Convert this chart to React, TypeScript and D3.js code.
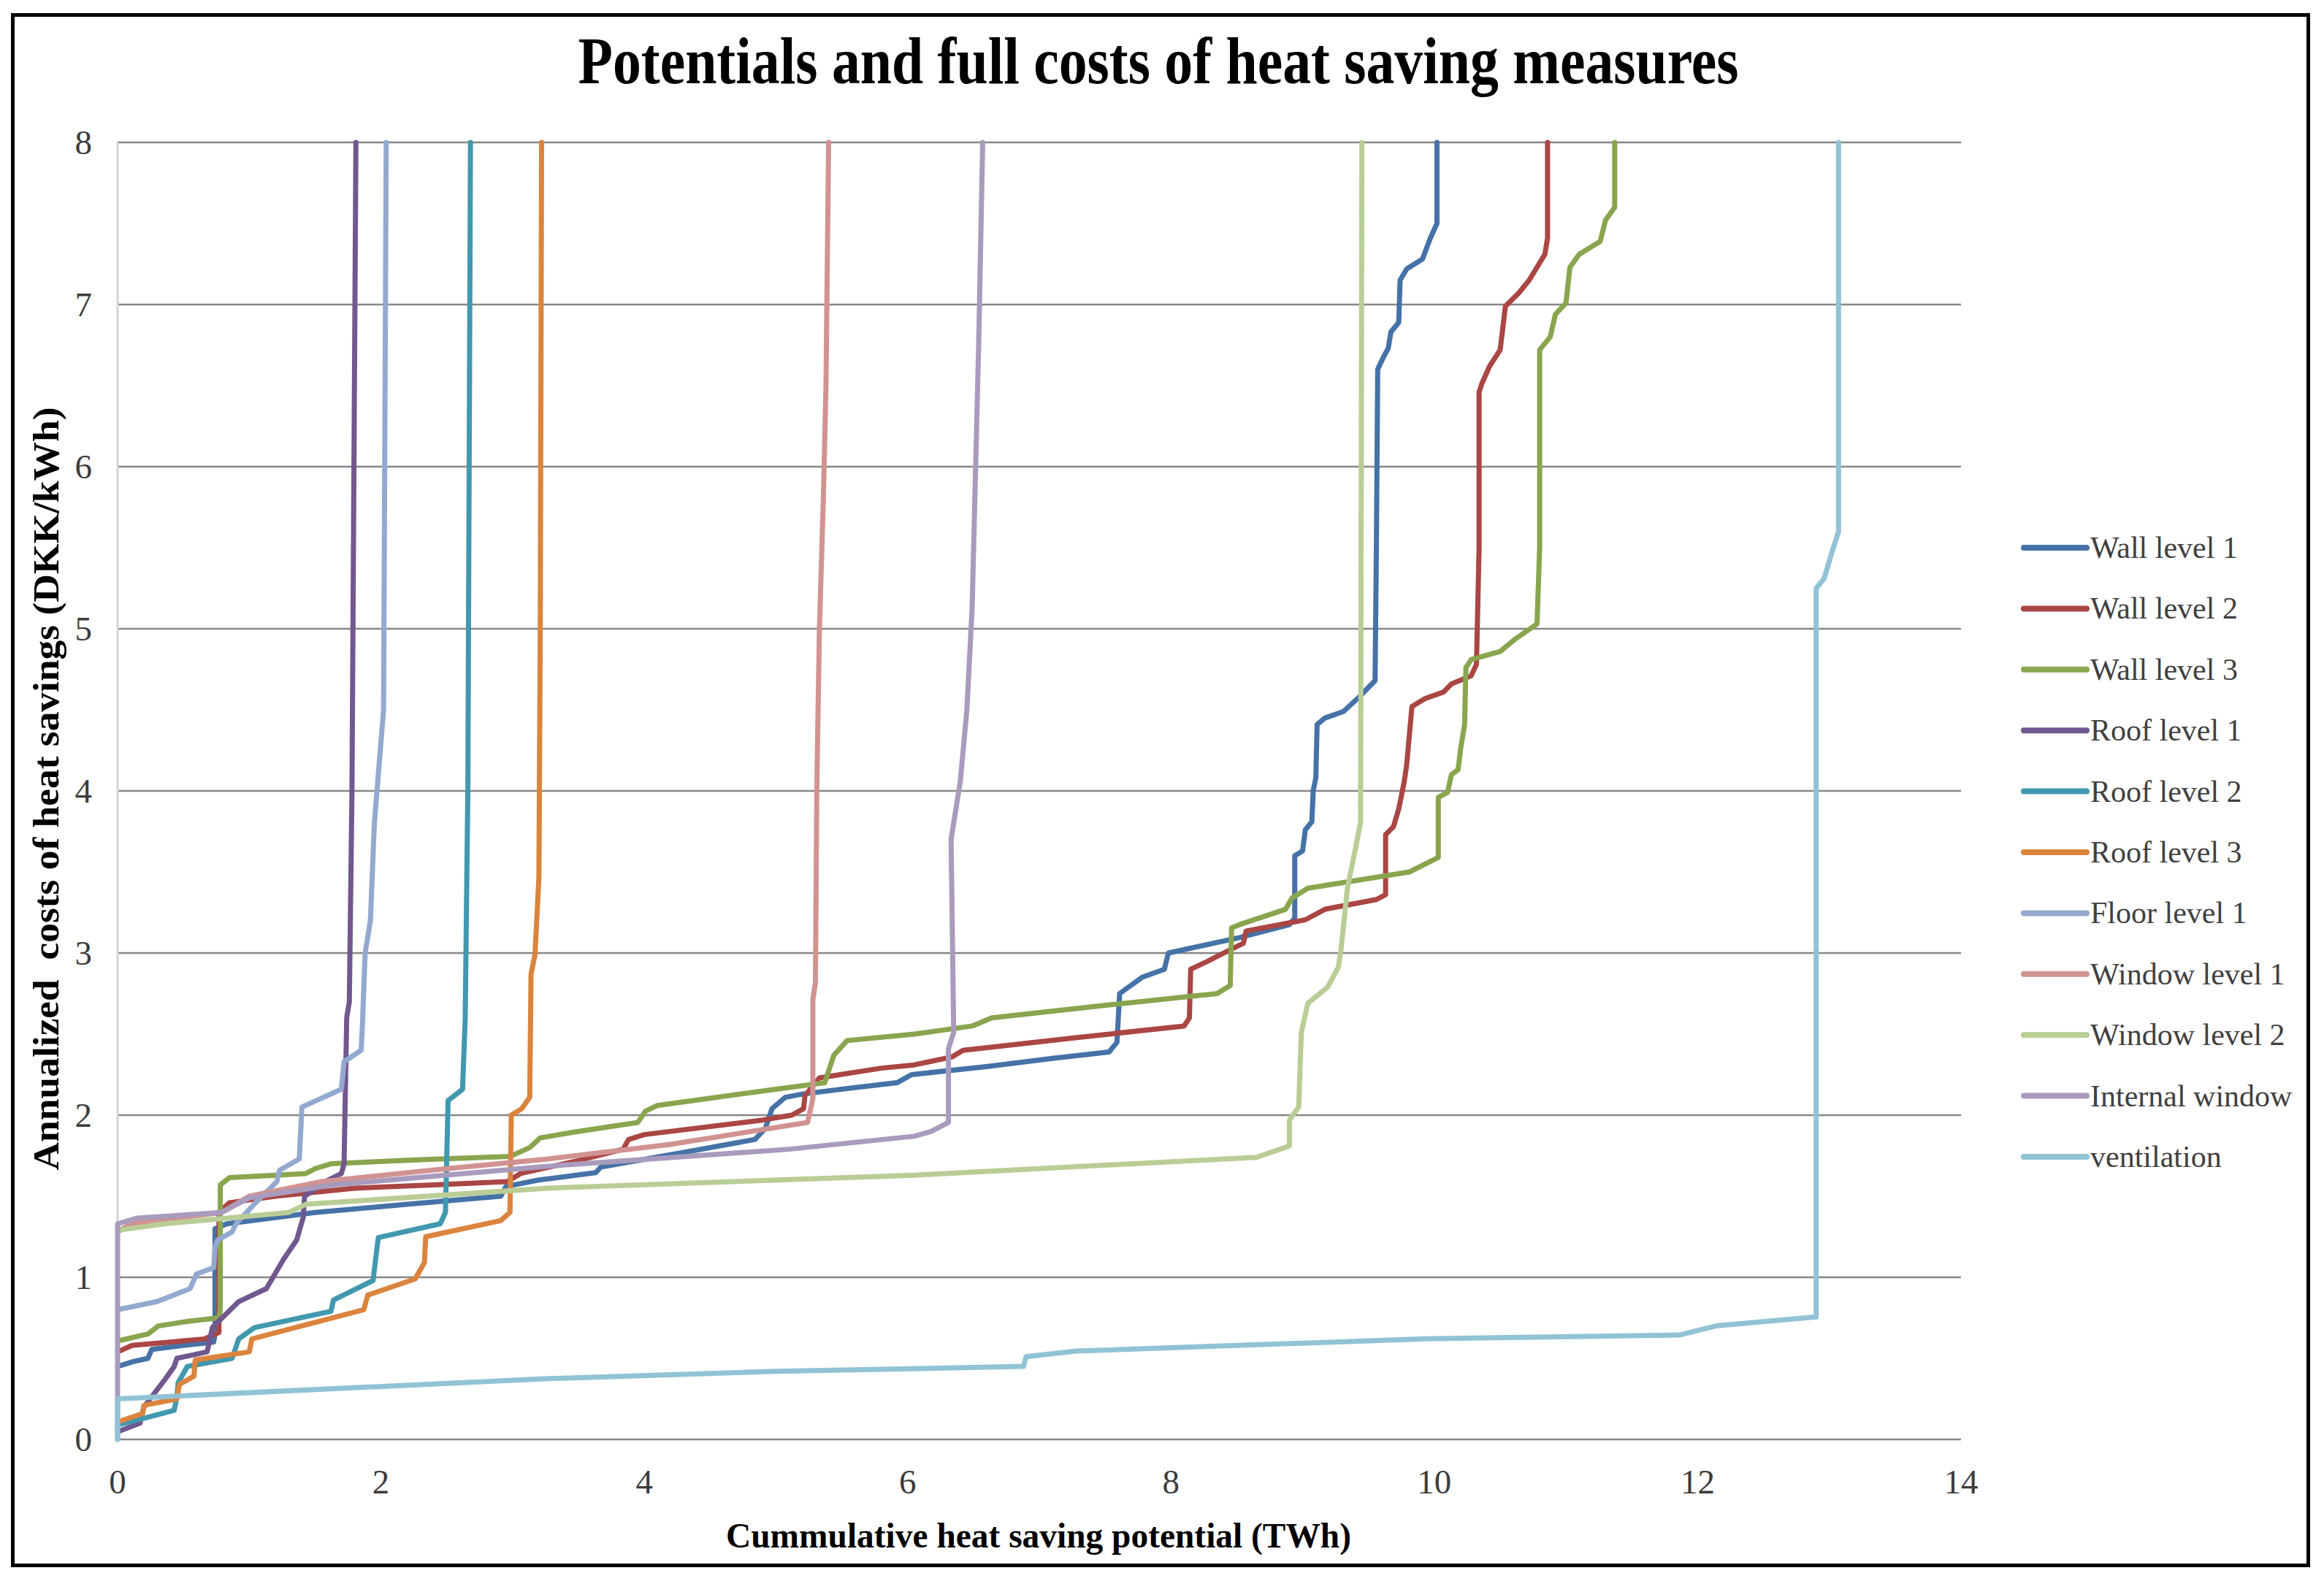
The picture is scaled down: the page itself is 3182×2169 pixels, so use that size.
import * as d3 from "d3";

type Pt = [number, number];

// cumulative potential (TWh) vs annualized cost (DKK/kWh)
const wallLevel1: Pt[] = [
  [0, 0.45], [0.12, 0.48], [0.23, 0.5], [0.26, 0.555], [0.5, 0.58], [0.73, 0.6], [0.74, 0.65],
  [0.74, 1.3], [0.83, 1.33], [1.5, 1.4], [2.2, 1.45], [2.91, 1.5], [2.95, 1.56], [3.2, 1.6],
  [3.63, 1.645], [3.67, 1.68], [4.3, 1.77], [4.84, 1.85], [4.92, 1.92], [4.97, 2.04], [5.07, 2.11],
  [5.2, 2.13], [5.6, 2.17], [5.92, 2.2], [6.03, 2.25], [6.6, 2.3], [7.1, 2.35], [7.53, 2.39],
  [7.59, 2.45], [7.61, 2.75], [7.78, 2.85], [7.95, 2.9], [7.98, 3.0], [8.52, 3.095], [8.9, 3.175],
  [8.94, 3.215], [8.94, 3.6], [9.0, 3.63], [9.02, 3.76], [9.07, 3.81], [9.08, 4.0], [9.1, 4.08],
  [9.11, 4.41], [9.17, 4.45], [9.31, 4.49], [9.43, 4.58], [9.55, 4.68], [9.56, 5.5], [9.57, 6.6],
  [9.61, 6.67], [9.65, 6.73], [9.67, 6.83], [9.73, 6.89], [9.74, 7.15], [9.79, 7.22], [9.91, 7.28],
  [9.97, 7.41], [10.02, 7.5], [10.02, 8],
];
const wallLevel2: Pt[] = [
  [0, 0.54], [0.11, 0.58], [0.4, 0.6], [0.66, 0.62], [0.77, 0.66], [0.77, 1.4], [0.85, 1.46],
  [1.2, 1.5], [1.8, 1.55], [2.4, 1.57], [2.96, 1.59], [3.06, 1.64], [3.5, 1.72], [3.84, 1.79],
  [3.88, 1.85], [4.0, 1.88], [4.9, 1.97], [5.12, 2.0], [5.21, 2.04], [5.22, 2.12], [5.33, 2.23],
  [5.8, 2.29], [6.05, 2.31], [6.34, 2.36], [6.42, 2.4], [7.3, 2.48], [8.1, 2.55], [8.14, 2.6],
  [8.15, 2.9], [8.28, 2.95], [8.4, 3.0], [8.55, 3.06], [8.57, 3.135], [9.02, 3.205], [9.17, 3.27],
  [9.56, 3.33], [9.63, 3.36], [9.63, 3.73], [9.69, 3.78], [9.73, 3.89], [9.77, 4.05], [9.79, 4.16],
  [9.83, 4.52], [9.93, 4.57], [10.07, 4.61], [10.13, 4.66], [10.28, 4.71], [10.32, 4.78],
  [10.34, 5.5], [10.34, 6.46], [10.36, 6.51], [10.42, 6.62], [10.5, 6.72], [10.54, 6.99],
  [10.64, 7.07], [10.72, 7.15], [10.84, 7.31], [10.86, 7.41], [10.86, 8],
];
const wallLevel3: Pt[] = [
  [0, 0.607], [0.23, 0.65], [0.31, 0.7], [0.55, 0.73], [0.77, 0.75], [0.78, 0.8], [0.78, 1.57],
  [0.85, 1.615], [1.2, 1.63], [1.43, 1.64], [1.5, 1.67], [1.62, 1.7], [2.3, 1.725], [2.98, 1.745],
  [3.13, 1.8], [3.21, 1.86], [3.5, 1.9], [3.95, 1.955], [4.01, 2.025], [4.1, 2.06], [5.0, 2.16],
  [5.37, 2.2], [5.44, 2.37], [5.54, 2.46], [6.05, 2.5], [6.49, 2.55], [6.64, 2.6], [7.53, 2.68],
  [8.35, 2.75], [8.45, 2.8], [8.46, 3.155], [8.52, 3.175], [8.87, 3.27], [8.92, 3.34], [9.04, 3.4],
  [9.81, 3.5], [10.03, 3.59], [10.03, 3.96], [10.1, 3.99], [10.13, 4.1], [10.18, 4.13], [10.2, 4.26],
  [10.23, 4.41], [10.24, 4.76], [10.28, 4.81], [10.5, 4.86], [10.62, 4.94], [10.78, 5.03],
  [10.8, 5.5], [10.8, 6.72], [10.88, 6.8], [10.92, 6.94], [11.0, 7.01], [11.03, 7.23], [11.1, 7.31],
  [11.26, 7.39], [11.3, 7.52], [11.37, 7.6], [11.37, 8],
];
const roofLevel1: Pt[] = [
  [0, 0.047], [0.17, 0.1], [0.2, 0.2], [0.36, 0.37], [0.43, 0.45], [0.45, 0.5], [0.68, 0.54],
  [0.72, 0.69], [0.92, 0.85], [1.13, 0.93], [1.26, 1.11], [1.36, 1.23], [1.41, 1.37], [1.42, 1.5],
  [1.6, 1.6], [1.7, 1.64], [1.72, 1.7], [1.74, 2.6], [1.76, 2.7], [1.78, 4], [1.81, 8],
];
const roofLevel2: Pt[] = [
  [0, 0.09], [0.2, 0.13], [0.43, 0.18], [0.45, 0.26], [0.46, 0.35], [0.53, 0.45], [0.87, 0.5],
  [0.92, 0.62], [1.04, 0.69], [1.62, 0.79], [1.64, 0.86], [1.94, 0.98], [1.98, 1.245], [2.45, 1.33],
  [2.49, 1.4], [2.51, 2.09], [2.62, 2.16], [2.64, 2.6], [2.66, 4], [2.68, 8],
];
const roofLevel3: Pt[] = [
  [0, 0.107], [0.19, 0.16], [0.2, 0.21], [0.45, 0.25], [0.47, 0.34], [0.58, 0.39], [0.59, 0.49],
  [1.0, 0.54], [1.02, 0.62], [1.87, 0.8], [1.9, 0.89], [2.26, 0.99], [2.33, 1.09], [2.34, 1.25],
  [2.91, 1.35], [2.98, 1.4], [2.99, 2.0], [3.07, 2.04], [3.13, 2.11], [3.14, 2.87], [3.17, 2.99],
  [3.2, 3.47], [3.21, 5], [3.22, 8],
];
const floorLevel1: Pt[] = [
  [0, 0.8], [0.3, 0.85], [0.55, 0.93], [0.6, 1.02], [0.73, 1.06], [0.74, 1.19], [0.76, 1.23],
  [0.87, 1.28], [0.9, 1.33], [1.06, 1.47], [1.21, 1.59], [1.23, 1.66], [1.38, 1.73], [1.4, 2.05],
  [1.7, 2.16], [1.72, 2.33], [1.85, 2.4], [1.86, 2.57], [1.88, 3.0], [1.92, 3.2], [1.95, 3.8],
  [2.0, 4.3], [2.02, 4.5], [2.04, 8],
];
const windowLevel1: Pt[] = [
  [0, 1.28], [0.1, 1.33], [0.4, 1.36], [0.79, 1.4], [1.0, 1.5], [1.55, 1.59], [2.5, 1.67],
  [3.27, 1.73], [4.2, 1.82], [5.24, 1.955], [5.28, 2.1], [5.28, 2.71], [5.3, 2.82], [5.31, 4],
  [5.33, 5], [5.36, 5.8], [5.38, 6.5], [5.4, 8],
];
const windowLevel2: Pt[] = [
  [0, 1.29], [0.36, 1.33], [1.3, 1.4], [1.43, 1.45], [3.27, 1.55], [6.05, 1.63], [8.65, 1.74],
  [8.9, 1.81], [8.9, 1.97], [8.97, 2.05], [8.99, 2.51], [9.04, 2.69], [9.19, 2.79], [9.27, 2.91],
  [9.29, 3.01], [9.34, 3.4], [9.41, 3.68], [9.44, 3.81], [9.45, 8],
];
const internalWindow: Pt[] = [
  [0, 0], [0, 1.33], [0.15, 1.365], [0.79, 1.4], [1.0, 1.49], [1.64, 1.57], [3.27, 1.685],
  [4.05, 1.73], [5.1, 1.79], [6.05, 1.87], [6.18, 1.9], [6.31, 1.955], [6.31, 2.41], [6.35, 2.51],
  [6.33, 3.7], [6.4, 4.06], [6.45, 4.5], [6.49, 5.13], [6.54, 6.77], [6.57, 8],
];
const ventilation: Pt[] = [
  [0, 0], [0, 0.25], [3.27, 0.375], [5, 0.42], [6.88, 0.45], [6.9, 0.51], [7.28, 0.545],
  [9.93, 0.62], [11.86, 0.644], [12.14, 0.7], [12.9, 0.756], [12.9, 5.25], [12.96, 5.31],
  [13.03, 5.5], [13.07, 5.6], [13.07, 8],
];

const seriesNames = [
  "Wall level 1", "Wall level 2", "Wall level 3", "Roof level 1", "Roof level 2", "Roof level 3",
  "Floor level 1", "Window level 1", "Window level 2", "Internal window", "ventilation",
];
const seriesData = [
  wallLevel1, wallLevel2, wallLevel3, roofLevel1, roofLevel2, roofLevel3,
  floorLevel1, windowLevel1, windowLevel2, internalWindow, ventilation,
];
const seriesColors = [
  "#4572A7", "#AA4643", "#89A54E", "#71588F", "#4198AF", "#DB843D",
  "#93A9CF", "#D19392", "#B9CD96", "#A99BBD", "#91C3D5",
];

const xTicks = [0, 2, 4, 6, 8, 10, 12, 14];
const yTicks = [0, 1, 2, 3, 4, 5, 6, 7, 8];

const W = 3182;
const H = 2169;
const plot = { left: 161, right: 2685, top: 195, bottom: 1971 };
const serif = "'Liberation Serif', 'Times New Roman', serif";

export default function App() {
  const x = d3.scaleLinear().domain([0, 14]).range([plot.left, plot.right]);
  const y = d3.scaleLinear().domain([0, 8]).range([plot.bottom, plot.top]);
  const line = d3
    .line<Pt>()
    .x((d) => x(d[0]))
    .y((d) => y(d[1]));

  return (
    <svg
      width={W}
      height={H}
      style={{ position: "absolute", left: 0, top: 0, background: "#fff" }}
      fontFamily={serif}
    >
      <rect x={17.5} y={20.5} width={3143} height={2123} fill="#fff" stroke="#000" strokeWidth={5} />

      {/* title */}
      <text
        x={1586}
        y={114}
        textAnchor="middle"
        fontSize={90}
        fontWeight="bold"
        textLength={1589}
        lengthAdjust="spacingAndGlyphs"
      >
        Potentials and full costs of heat saving measures
      </text>

      {/* grid lines */}
      {yTicks.map((t) => (
        <line
          key={"g" + t}
          x1={plot.left}
          x2={plot.right}
          y1={y(t)}
          y2={y(t)}
          stroke="#868686"
          strokeWidth={2.5}
        />
      ))}
      <line x1={plot.left} x2={plot.left} y1={plot.top} y2={plot.bottom} stroke="#d4d4d4" strokeWidth={3} />

      {/* tick labels */}
      {yTicks.map((t) => (
        <text
          key={"yt" + t}
          x={126}
          y={y(t)}
          textAnchor="end"
          dominantBaseline="central"
          fontSize={47}
          fill="#3c3c3c"
        >
          {t}
        </text>
      ))}
      {xTicks.map((t) => (
        <text key={"xt" + t} x={x(t)} y={2045} textAnchor="middle" fontSize={47} fill="#3c3c3c">
          {t}
        </text>
      ))}

      {/* series */}
      {seriesData.map((d, i) => (
        <path
          key={seriesNames[i]}
          d={line(d) ?? ""}
          fill="none"
          stroke={seriesColors[i]}
          strokeWidth={7}
          strokeLinejoin="round"
          strokeLinecap="round"
        />
      ))}

      {/* axis titles */}
      <text
        x={1422}
        y={2119}
        textAnchor="middle"
        fontSize={48}
        fontWeight="bold"
        textLength={856}
        lengthAdjust="spacingAndGlyphs"
      >
        Cummulative heat saving potential (TWh)
      </text>
      <text
        transform="translate(80,1080) rotate(-90)"
        textAnchor="middle"
        fontSize={50}
        fontWeight="bold"
        textLength={1045}
        lengthAdjust="spacingAndGlyphs"
        style={{ whiteSpace: "pre" }}
      >
        {"Annualized  costs of heat savings (DKK/kWh)"}
      </text>

      {/* legend */}
      {seriesNames.map((name, i) => {
        const ly = 750 + i * 83.4;
        return (
          <g key={"lg" + name}>
            <line x1={2771} x2={2857} y1={ly} y2={ly} stroke={seriesColors[i]} strokeWidth={8} strokeLinecap="round" />
            <text x={2862} y={ly} dominantBaseline="central" fontSize={42} fill="#404040">
              {name}
            </text>
          </g>
        );
      })}
    </svg>
  );
}
